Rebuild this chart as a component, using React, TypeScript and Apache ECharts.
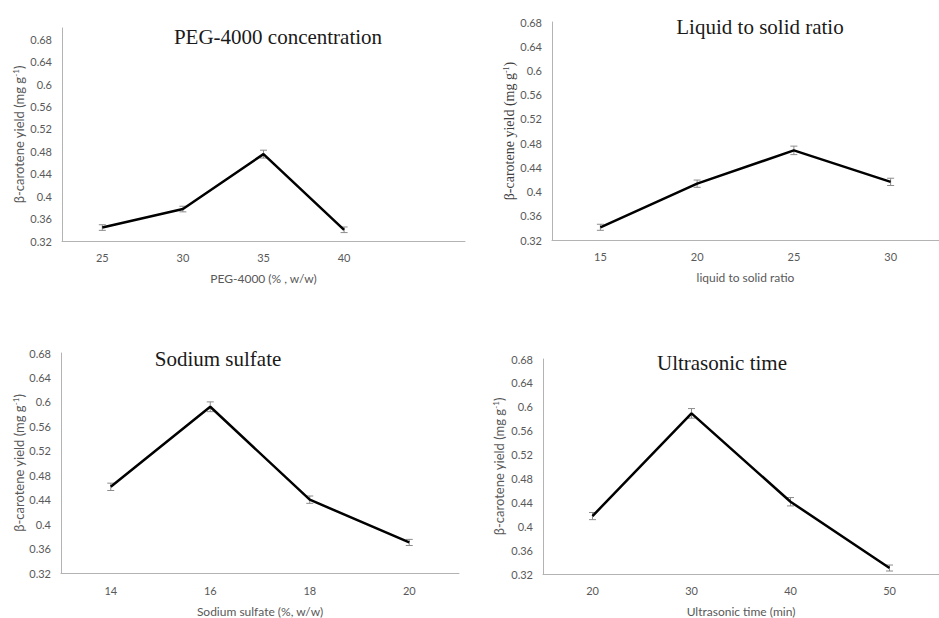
import React, { useEffect, useRef } from "react";
import * as echarts from "echarts";

// ---- data ----
const pegCategories = ["25", "30", "35", "40", ""];
const pegValues = [0.344, 0.377, 0.475, 0.34, null];
const pegErrors = [0.005, 0.005, 0.007, 0.005, null];

const lsCategories = ["15", "20", "25", "30"];
const lsValues = [0.341, 0.413, 0.468, 0.416];
const lsErrors = [0.005, 0.006, 0.007, 0.006];

const ssCategories = ["14", "16", "18", "20"];
const ssValues = [0.461, 0.592, 0.44, 0.37];
const ssErrors = [0.006, 0.008, 0.006, 0.005];

const utCategories = ["20", "30", "40", "50"];
const utValues = [0.417, 0.589, 0.441, 0.33];
const utErrors = [0.006, 0.008, 0.007, 0.005];

const titles = ["PEG-4000 concentration", "Liquid to solid ratio", "Sodium sulfate", "Ultrasonic time"];
const xNames = ["PEG-4000 (% , w/w)", "liquid to solid ratio", "Sodium sulfate (%, w/w)", "Ultrasonic time (min)"];
const yName = "β-carotene yield (mg g{s|-1})";

const SANS = "Lato, 'Liberation Sans', sans-serif";
const SERIF = "'Liberation Serif', 'Times New Roman', serif";
const LABEL = "#595959";
const AXIS = "#b3b3b3";

const panels = [
  { cats: pegCategories, vals: pegValues, errs: pegErrors, grid: { left: 62, top: 28, width: 403, height: 213 }, max: 0.7, yGap: 37, yFont: SANS, yColor: LABEL, ySize: 13, xMargin: 11, xGap: 31, title: { x: 278, y: 37 } },
  { cats: lsCategories, vals: lsValues, errs: lsErrors, grid: { left: 552, top: 22, width: 399, height: 218 }, max: 0.68, yGap: 33, yFont: SERIF, yColor: "#404040", ySize: 14, xMargin: 11, xGap: 31, title: { x: 760, y: 27 } },
  { cats: ssCategories, vals: ssValues, errs: ssErrors, grid: { left: 61, top: 353, width: 398, height: 221 }, max: 0.68, yGap: 36, yFont: SANS, yColor: LABEL, ySize: 13, xMargin: 12, xGap: 32, title: { x: 218, y: 359 } },
  { cats: utCategories, vals: utValues, errs: utErrors, grid: { left: 543, top: 359, width: 408, height: 217 }, max: 0.68, yGap: 38, yFont: SANS, yColor: LABEL, ySize: 13, xMargin: 11, xGap: 31, title: { x: 722, y: 363 } },
];

export default function App() {
  const ref = useRef<HTMLDivElement>(null);
  useEffect(() => {
    if (!ref.current) return;
    const chart = echarts.init(ref.current, null, { renderer: "svg" });
    const grid: any[] = [];
    const xAxis: any[] = [];
    const yAxis: any[] = [];
    const series: any[] = [];
    const graphic: any[] = [];
    panels.forEach((p, i) => {
      grid.push({ ...p.grid, containLabel: false });
      xAxis.push({
        type: "category",
        gridIndex: i,
        data: p.cats,
        boundaryGap: true,
        axisLine: { lineStyle: { color: AXIS, width: 1 } },
        axisTick: { show: false },
        axisLabel: { color: LABEL, fontFamily: SANS, fontSize: 11, margin: p.xMargin },
        name: xNames[i],
        nameLocation: "middle",
        nameGap: p.xGap,
        nameTextStyle: { color: LABEL, fontFamily: SANS, fontSize: 12 },
        splitLine: { show: false },
      });
      yAxis.push({
        type: "value",
        gridIndex: i,
        min: 0.32,
        max: p.max,
        interval: 0.04,
        axisLine: { show: true, lineStyle: { color: AXIS, width: 1 } },
        axisTick: { show: false },
        splitLine: { show: false },
        axisLabel: {
          color: LABEL,
          fontFamily: SANS,
          fontSize: 11,
          margin: 10,
          showMaxLabel: p.max === 0.68,
          formatter: (v: number) => String(Math.round(v * 100) / 100),
        },
        name: yName,
        nameLocation: "middle",
        nameGap: p.yGap,
        nameTextStyle: {
          color: p.yColor,
          fontFamily: p.yFont,
          fontSize: p.ySize,
          rich: { s: { fontSize: 8, verticalAlign: "top", color: p.yColor, fontFamily: p.yFont, padding: [0, 0, 5, 0] } },
        },
      });
      series.push({
        type: "custom",
        xAxisIndex: i,
        yAxisIndex: i,
        z: 2,
        data: p.vals
          .map((v, k) => (v == null ? null : [k, v, p.errs[k]]))
          .filter((d) => d != null),
        renderItem: (params: any, api: any) => {
          const x = api.value(0);
          const v = api.value(1);
          const e = api.value(2);
          const t = api.coord([x, v + e]);
          const b = api.coord([x, v - e]);
          const hw = 3.5;
          const st = { stroke: "#8c8c8c", lineWidth: 1 };
          return {
            type: "group",
            children: [
              { type: "line", shape: { x1: t[0], y1: t[1], x2: b[0], y2: b[1] }, style: st },
              { type: "line", shape: { x1: t[0] - hw, y1: t[1], x2: t[0] + hw, y2: t[1] }, style: st },
              { type: "line", shape: { x1: b[0] - hw, y1: b[1], x2: b[0] + hw, y2: b[1] }, style: st },
            ],
          };
        },
      });
      series.push({
        type: "line",
        xAxisIndex: i,
        yAxisIndex: i,
        z: 3,
        data: p.vals,
        symbol: "none",
        lineStyle: { color: "#000", width: 2.5 },
        connectNulls: false,
      });
      graphic.push({
        type: "text",
        x: p.title.x,
        y: p.title.y,
        style: {
          text: titles[i],
          fontFamily: SERIF,
          fontSize: 21,
          fill: "#1a1a1a",
          textAlign: "center",
          textVerticalAlign: "middle",
        },
      });
    });
    chart.setOption({
      animation: false,
      backgroundColor: "#ffffff",
      grid,
      xAxis,
      yAxis,
      series,
      graphic,
    });
    return () => chart.dispose();
  }, []);
  return <div ref={ref} style={{ position: "fixed", left: 0, top: 0, width: 939, height: 618 }} />;
}
